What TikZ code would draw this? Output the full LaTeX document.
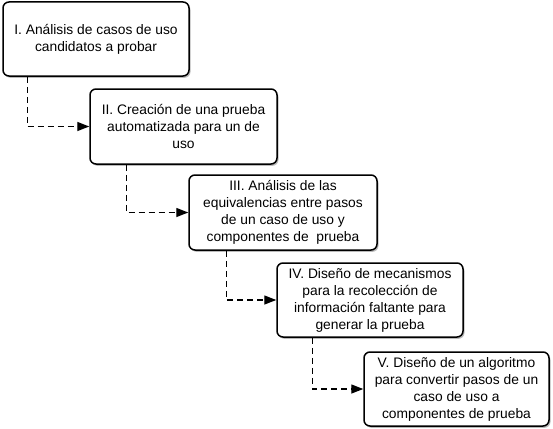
\documentclass[tikz,border=0pt]{standalone}
\usepackage{fontspec}
\setmainfont{Liberation Sans}
\usetikzlibrary{shadows,arrows.meta}
\tikzset{
  stepbox/.style={draw=black, line width=1.5pt, rounded corners=6pt, fill=white,
    align=center, font=\fontsize{13.8}{17}\selectfont, inner sep=0pt,
    drop shadow={shadow xshift=1.5pt, shadow yshift=-1.8pt, opacity=0.45, fill=black!60}},
  conn/.style={line width=1.4pt, dash pattern=on 6pt off 4pt,
    -{Triangle[length=12pt,width=9pt]}}
}
\begin{document}
\begin{tikzpicture}[x=1pt,y=-1pt]
\useasboundingbox (0,0) rectangle (553,428);
\node[stepbox, minimum width=186pt, minimum height=74pt] (b1) at (96,39)
  {I. Análisis de casos de uso\\candidatos a probar};
\node[stepbox, minimum width=187pt, minimum height=75pt] (b2) at (183.5,126.5)
  {II. Creación de una prueba\\automatizada para un de\\uso};
\node[stepbox, minimum width=188pt, minimum height=75pt] (b3) at (283,212.5)
  {III. Análisis de las\\equivalencias entre pasos\\de un caso de uso y\\componentes de\ \ prueba};
\node[stepbox, minimum width=186pt, minimum height=74pt] (b4) at (370,300)
  {IV. Diseño de mecanismos\\para la recolección de\\información faltante para\\generar la prueba};
\node[stepbox, minimum width=185pt, minimum height=74pt] (b5) at (456.5,389)
  {V. Diseño de un algoritmo\\para convertir pasos de un\\caso de uso a\\componentes de prueba};
\draw[conn] ([xshift=25pt]b1.south west) |- (b2.west);
\draw[conn] ([xshift=37pt]b2.south west) |- (b3.west);
\draw[conn] ([xshift=38pt]b3.south west) |- (b4.west);
\draw[conn] ([xshift=36pt]b4.south west) |- (b5.west);
\end{tikzpicture}
\end{document}
